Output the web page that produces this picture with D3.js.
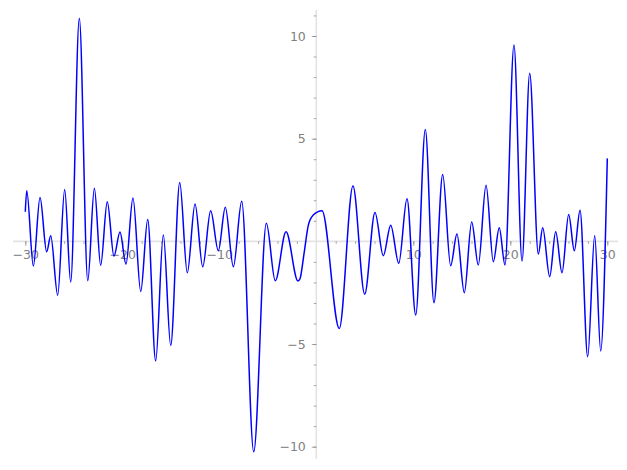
<!DOCTYPE html>
<html><head><meta charset="utf-8">
<script src="https://cdn.jsdelivr.net/npm/d3@7"></script>
<style>body{margin:0;background:#fff}</style>
</head><body>
<svg id="c" width="627" height="470"></svg>
<script>
// Curve samples (local extrema and a few shoulder points)
const xs = [-30,-29.85,-29.17,-28.48,-27.8,-27.38,-26.66,-25.94,-25.32,-24.43,-23.56,-22.88,-22.23,-21.55,-20.86,-20.24,-19.62,-18.9,-18.1,-17.38,-16.56,-15.77,-15.01,-14.08,-13.3,-12.5,-11.71,-10.89,-10.1,-9.38,-8.55,-7.69,-6.45,-5.15,-4.23,-3.12,-1.89,-1.68,-1.25,-0.82,-0.31,0.59,2.37,3.78,4.99,6.05,6.91,7.67,8.5,9.35,10.25,11.24,12.13,13.03,13.85,14.5,15.26,16.02,16.7,17.5,18.25,18.86,19.45,20.38,21.21,22.0,22.89,23.34,24.06,24.68,25.33,26.02,26.6,27.19,27.98,28.7,29.32,30];
const ys = [1.44,2.46,-1.2,2.14,-0.51,0.27,-2.62,2.53,-1.98,10.86,-1.92,2.58,-1.17,1.93,-0.72,0.45,-1.11,2.11,-2.44,1.07,-5.82,0.31,-5.07,2.87,-1.53,1.82,-1.24,1.49,-0.46,1.66,-1.24,1.95,-10.25,0.88,-1.92,0.47,-1.93,-1.82,-0.55,0.79,1.28,1.49,-4.24,2.69,-2.57,1.41,-0.7,0.79,-1.07,2.08,-3.59,5.45,-2.99,3.26,-1.19,0.36,-2.5,0.94,-1.15,2.73,-0.99,0.66,-1.15,9.56,-0.96,8.18,-0.62,0.66,-1.72,0.47,-1.53,1.31,-0.46,1.52,-5.62,0.27,-5.34,4.04];
const xMajor = [-30,-20,-10,10,20,30];
const xMinor = d3.range(-30,31,2);
const yMajor = [-10,-5,5,10];
const yMinor = d3.range(-10,12,1);

const svg = d3.select("#c");
const x = d3.scaleLinear().domain([-30,30]).range([25.3,607.3]);
const y = d3.scaleLinear().domain([-10,10]).range([446.7,36]);
const axisCol = "#e3e3e3", tickCol = "#8c8c8c", labCol = "#7f7f7f";
const font = "DejaVu Sans, sans-serif";

// axis lines
svg.append("line").attr("x1",13).attr("x2",618).attr("y1",y(0)).attr("y2",y(0))
  .attr("stroke",axisCol).attr("stroke-width",1.6);
svg.append("line").attr("x1",x(0)).attr("x2",x(0)).attr("y1",10).attr("y2",459)
  .attr("stroke",axisCol).attr("stroke-width",1.6);

// x axis ticks
const gx = svg.append("g").attr("transform",`translate(0,${y(0)})`);
gx.call(d3.axisBottom(x).tickValues(xMinor.filter(v=>v!==0)).tickSize(2.5).tickFormat(""));
gx.append("g").call(d3.axisBottom(x).tickValues(xMajor).tickSize(4.5).tickPadding(4)
  .tickFormat(d=>d<0?"\u2212"+(-d):d));
gx.selectAll(".domain").remove();
gx.selectAll("line").attr("stroke",tickCol).attr("stroke-width",0.8);
gx.selectAll("text").attr("fill",labCol).attr("font-size",12.5).attr("font-family",font);

// y axis ticks
const gy = svg.append("g").attr("transform",`translate(${x(0)},0)`);
gy.call(d3.axisLeft(y).tickValues(yMinor.filter(v=>v!==0)).tickSize(2.5).tickFormat(""));
gy.append("g").call(d3.axisLeft(y).tickValues(yMajor).tickSize(4.5).tickPadding(6)
  .tickFormat(d=>d<0?"\u2212"+(-d):d));
gy.selectAll(".domain").remove();
gy.selectAll("line").attr("stroke",tickCol).attr("stroke-width",0.8);
gy.selectAll("text").attr("fill",labCol).attr("font-size",12.5).attr("font-family",font);

// curve
const pts = xs.map((v,i)=>[v,ys[i]]);
svg.append("path").datum(pts)
  .attr("d",d3.line().x(d=>x(d[0])).y(d=>y(d[1])).curve(d3.curveMonotoneX))
  .attr("fill","none").attr("stroke","#0000ff").attr("stroke-width",1.5);
</script>
</body></html>
